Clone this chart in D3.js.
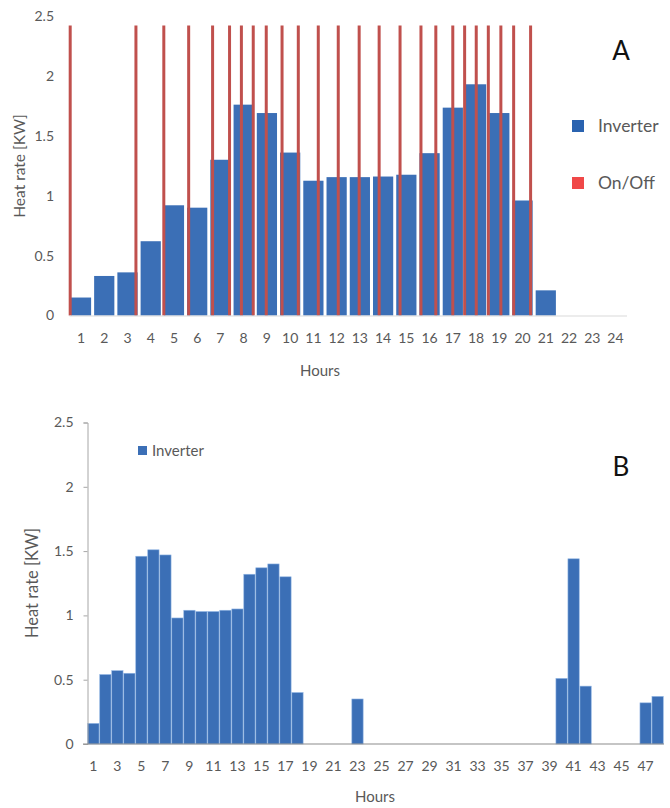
<!DOCTYPE html>
<html>
<head>
<meta charset="utf-8">
<script src="https://cdn.jsdelivr.net/npm/d3@7"></script>
<style>
  body { margin: 0; background: #fff; }
  text { font-family: Lato, "Open Sans", sans-serif; }
</style>
</head>
<body>
<script>
// data - chart A (24 hours)
const hoursA = d3.range(1, 25);
const inverterA = [0.15, 0.33, 0.36, 0.62, 0.92, 0.90, 1.30, 1.76, 1.69, 1.36, 1.125, 1.155,
                   1.155, 1.16, 1.175, 1.355, 1.735, 1.93, 1.69, 0.96, 0.21, 0, 0, 0];
// on/off switching moments (hour units from start of hour 1)
const onOffTimes = [0.03, 2.86, 4.06, 5.13, 6.16, 6.89, 7.40, 7.91, 8.47, 9.15, 9.85, 10.71,
                    11.57, 12.47, 13.33, 14.23, 15.13, 15.77, 16.50, 17.01, 17.51, 18.03,
                    18.57, 19.12, 19.85];
const onOffValue = 2.42;

// data - chart B (48 hours)
const hoursB = d3.range(1, 49);
const inverterB = [0.16, 0.54, 0.57, 0.55, 1.46, 1.51, 1.47, 0.98, 1.04, 1.03, 1.03, 1.04,
                   1.05, 1.32, 1.37, 1.40, 1.30, 0.40, 0, 0, 0, 0, 0.35, 0,
                   0, 0, 0, 0, 0, 0, 0, 0, 0, 0, 0, 0,
                   0, 0, 0, 0.51, 1.44, 0.45, 0, 0, 0, 0, 0.32, 0.37];

const yTicks = [0, 0.5, 1, 1.5, 2, 2.5];

const width = 670, height = 808;
const blue = "#3b6fb6", red = "#c0504d", grey = "#595959";

const svg = d3.select("body").append("svg")
    .attr("width", width)
    .attr("height", height);

// ---------- Chart A ----------
const xA = d3.scaleBand().domain(hoursA).range([69.5, 627]).paddingInner(0.13).paddingOuter(0.06);
const tA = d3.scaleLinear().domain([0, 24]).range([69.5, 627]);
const yA = d3.scaleLinear().domain([0, 2.5]).range([315.5, 16]);

const gA = svg.append("g");

gA.selectAll("rect.bar")
    .data(inverterA)
    .enter().append("rect")
    .attr("class", "bar")
    .attr("x", (d, i) => xA(hoursA[i]))
    .attr("y", d => yA(d))
    .attr("width", xA.bandwidth())
    .attr("height", d => yA(0) - yA(d))
    .attr("fill", blue);

gA.selectAll("line.onoff")
    .data(onOffTimes)
    .enter().append("line")
    .attr("class", "onoff")
    .attr("x1", d => tA(d)).attr("x2", d => tA(d))
    .attr("y1", yA(0)).attr("y2", yA(onOffValue))
    .attr("stroke", red)
    .attr("stroke-width", 3);

// baseline
gA.append("line")
    .attr("x1", 69.5).attr("x2", 627)
    .attr("y1", yA(0) + 0.5).attr("y2", yA(0) + 0.5)
    .attr("stroke", "#d9d9d9");

const axA = gA.append("g")
    .attr("transform", "translate(0," + (yA(0) + 2) + ")")
    .call(d3.axisBottom(xA).tickSize(0).tickPadding(16));
axA.select(".domain").remove();
axA.selectAll("text").attr("fill", grey).style("font-size", "14px");

const ayA = gA.append("g")
    .attr("transform", "translate(58,0)")
    .call(d3.axisLeft(yA).tickValues(yTicks).tickFormat(d3.format("")).tickSize(0).tickPadding(4));
ayA.select(".domain").remove();
ayA.selectAll("text").attr("fill", grey).style("font-size", "14px");

gA.append("text")
    .attr("transform", "translate(25,166) rotate(-90)")
    .attr("text-anchor", "middle")
    .attr("fill", grey).style("font-size", "15.5px")
    .text("Heat rate [KW]");

gA.append("text")
    .attr("x", 320).attr("y", 376)
    .attr("text-anchor", "middle")
    .attr("fill", grey).style("font-size", "15px")
    .text("Hours");

gA.append("text")
    .attr("x", 621).attr("y", 60)
    .attr("text-anchor", "middle")
    .attr("fill", "#111").style("font-size", "26px")
    .text("A");

// legend A
const legA = [{ name: "Inverter", color: "#2a63b0", y: 126 }, { name: "On/Off", color: "#f04848", y: 183 }];
legA.forEach(l => {
    gA.append("rect").attr("x", 572).attr("y", l.y - 6).attr("width", 12).attr("height", 12).attr("fill", l.color);
    gA.append("text").attr("x", 598).attr("y", l.y + 6)
        .attr("fill", grey).style("font-size", "17.5px").text(l.name);
});

// ---------- Chart B ----------
const xB = d3.scaleBand().domain(hoursB).range([87.5, 663.5]).paddingInner(0.06).paddingOuter(0.02);
const yB = d3.scaleLinear().domain([0, 2.5]).range([744, 422.5]);

const gB = svg.append("g");

gB.selectAll("rect.bar")
    .data(inverterB)
    .enter().append("rect")
    .attr("class", "bar")
    .attr("x", (d, i) => xB(hoursB[i]))
    .attr("y", d => yB(d))
    .attr("width", xB.bandwidth())
    .attr("height", d => yB(0) - yB(d))
    .attr("fill", blue)
    .attr("stroke", "#8fb4e3")
    .attr("stroke-width", 0.6);

const ayB = gB.append("g")
    .attr("transform", "translate(87.5,0)")
    .call(d3.axisLeft(yB).tickValues(yTicks).tickFormat(d3.format("")).tickSize(4).tickSizeOuter(4).tickPadding(10));
ayB.select(".domain").attr("stroke", "#a6a6a6");
ayB.selectAll(".tick line").attr("stroke", "#a6a6a6");
ayB.selectAll("text").attr("fill", grey).style("font-size", "14px");

gB.append("line")
    .attr("x1", 83).attr("x2", 664)
    .attr("y1", yB(0)).attr("y2", yB(0))
    .attr("stroke", "#8c8c8c").attr("stroke-width", 1.2);

const axB = gB.append("g")
    .attr("transform", "translate(0," + yB(0) + ")")
    .call(d3.axisBottom(xB).tickValues(hoursB.filter(h => h % 2 === 1)).tickSize(0).tickPadding(17));
axB.select(".domain").remove();
axB.selectAll("text").attr("fill", grey).style("font-size", "14px");

gB.append("text")
    .attr("transform", "translate(38,583) rotate(-90)")
    .attr("text-anchor", "middle")
    .attr("fill", grey).style("font-size", "16.5px")
    .text("Heat rate [KW]");

gB.append("text")
    .attr("x", 375).attr("y", 802)
    .attr("text-anchor", "middle")
    .attr("fill", grey).style("font-size", "15px")
    .text("Hours");

gB.append("text")
    .attr("x", 621).attr("y", 476)
    .attr("text-anchor", "middle")
    .attr("fill", "#111").style("font-size", "26px")
    .text("B");

// legend B
gB.append("rect").attr("x", 138).attr("y", 446).attr("width", 9).attr("height", 9).attr("fill", blue);
gB.append("text").attr("x", 152).attr("y", 456)
    .attr("fill", grey).style("font-size", "15px").text("Inverter");
</script>
</body>
</html>
